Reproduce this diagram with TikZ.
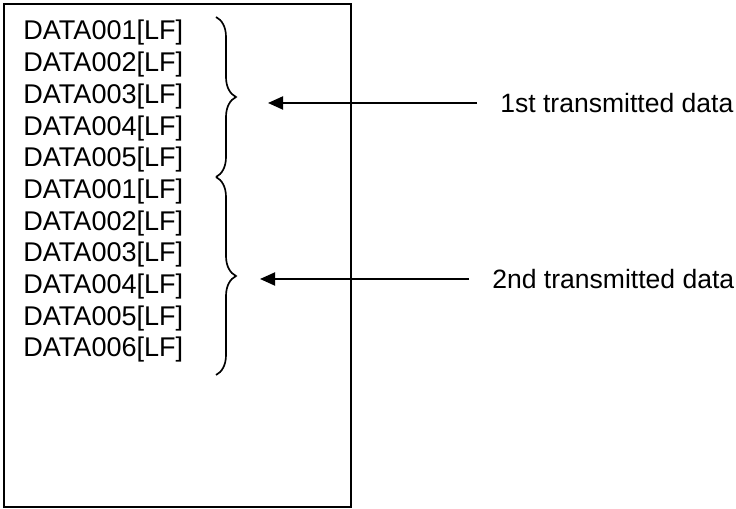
\documentclass[tikz,border=0pt]{standalone}
\usepackage{fontspec}
\setmainfont{Liberation Sans}
\usetikzlibrary{arrows.meta,decorations.pathreplacing}

\begin{document}
\begin{tikzpicture}[x=0.02cm, y=-0.02cm,
    rec/.style={anchor=west, inner sep=0pt, font=\fontsize{15.4}{18}\selectfont},
    lbl/.style={anchor=west, inner sep=0pt, font=\fontsize{15.1}{18}\selectfont},
    brc/.style={decorate, decoration={brace, amplitude=0.4cm}, line width=0.95pt},
    arr/.style={-{Triangle[length=0.3cm, width=0.26cm]}, line width=1.1pt, shorten <=0.46cm}
]
\useasboundingbox (0,0) rectangle (736,509);
\draw[line width=1.2pt] (4,4) rectangle (351,507);

\node[rec] (r1) at (23,33) {DATA001[LF]};
\node[rec] (r2) at (23,64.7) {DATA002[LF]};
\node[rec] (r3) at (23,96.4) {DATA003[LF]};
\node[rec] (r4) at (23,128.1) {DATA004[LF]};
\node[rec] (r5) at (23,159.8) {DATA005[LF]};
\node[rec] (r6) at (23,191.5) {DATA001[LF]};
\node[rec] (r7) at (23,223.2) {DATA002[LF]};
\node[rec] (r8) at (23,254.9) {DATA003[LF]};
\node[rec] (r9) at (23,286.6) {DATA004[LF]};
\node[rec] (r10) at (23,318.3) {DATA005[LF]};
\node[rec] (r11) at (23,350) {DATA006[LF]};

\draw[brc] (216,17) -- (216,177);
\draw[brc] (216,177) -- (216,375);

\node[lbl] (first) at (500,103) {1st transmitted data};
\node[lbl] (second) at (492,279) {2nd transmitted data};
\coordinate (tip1) at (268,103);
\coordinate (tip2) at (260,279);

\draw[arr] (first.west) -- (tip1);
\draw[arr] (second.west) -- (tip2);
\end{tikzpicture}
\end{document}
